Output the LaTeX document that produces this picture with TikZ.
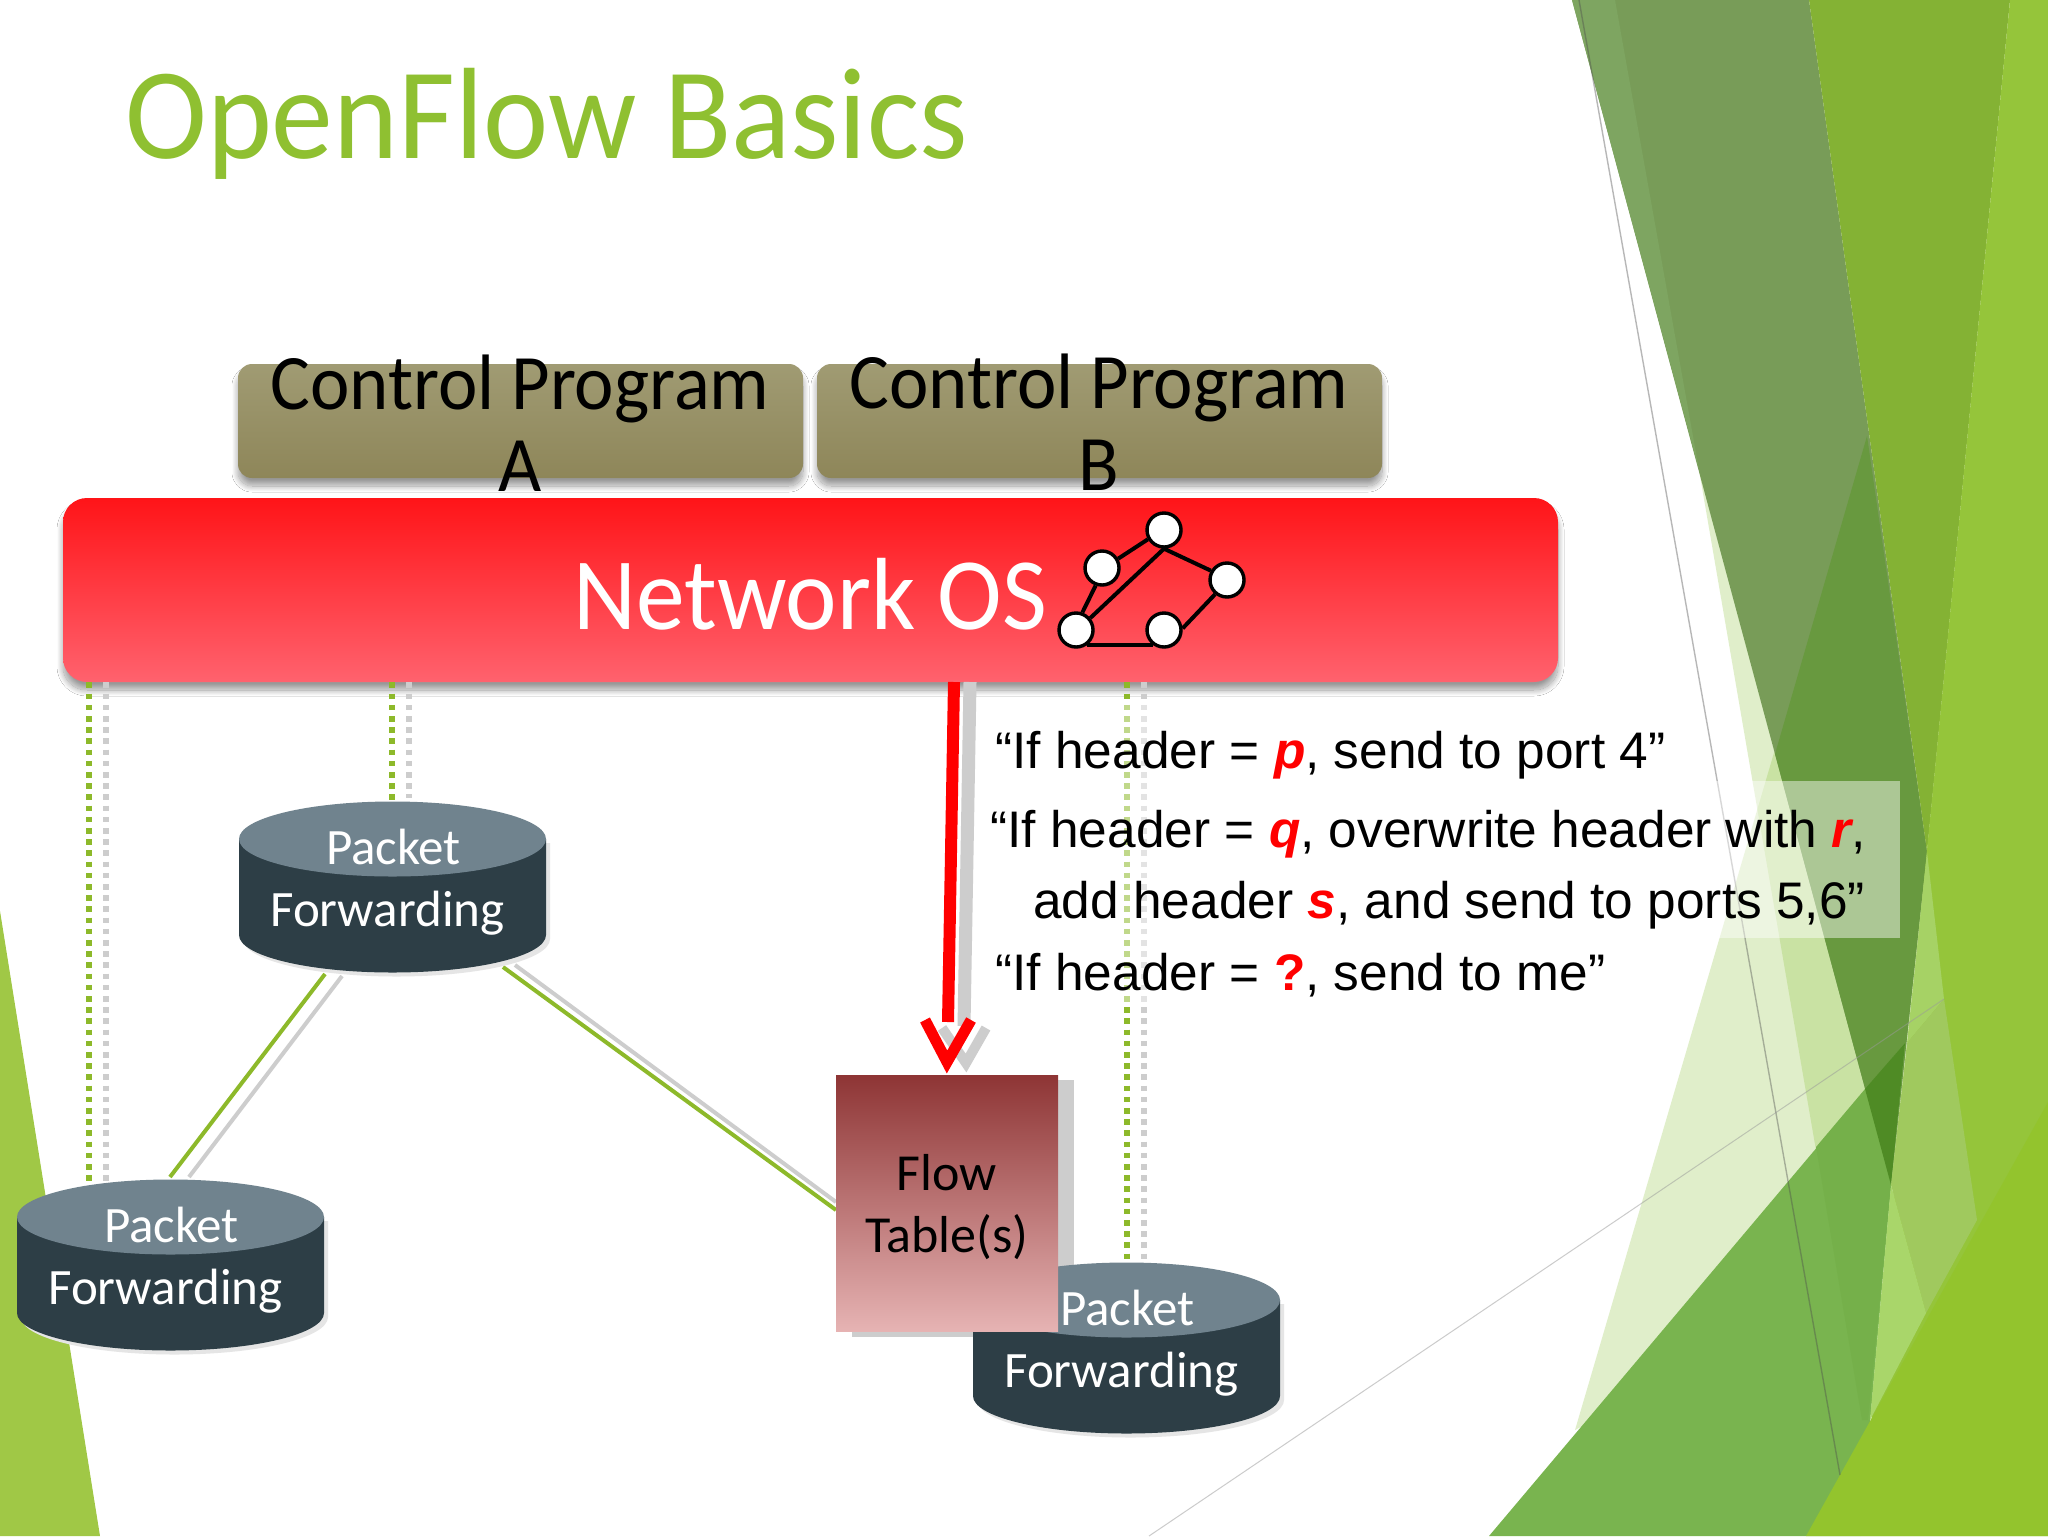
\documentclass[tikz,border=0pt]{standalone}
\usepackage{fontspec}
\setmainfont{Carlito}
\newfontfamily\displayfont{Carlito}[FakeStretch=.95]
\newfontfamily\rulefont{Liberation Sans}
\usetikzlibrary{shadows, shadows.blur, calc}
\definecolor{titlegreen}{HTML}{8FC031}
\definecolor{linkgreen}{HTML}{8DB92A}
\definecolor{palegreen}{RGB}{141,195,60}
\definecolor{shadowgray}{HTML}{CDCDCD}
\definecolor{cyltop}{HTML}{70838E}
\definecolor{cylside}{HTML}{2D3E46}
\definecolor{rulered}{HTML}{FF0000}
\definecolor{progtop}{HTML}{A09B73}
\definecolor{progbottom}{HTML}{8E8659}
\definecolor{ostop}{HTML}{FF1418}
\definecolor{osbottom}{HTML}{FF626E}
\definecolor{flowtop}{RGB}{142,53,53}
\definecolor{flowbottom}{RGB}{230,179,179}

\begin{document}
\begin{tikzpicture}[
    x=.5pt, y=-.5pt,
    soft_shadow/.style={
      blur shadow={shadow blur steps=20, shadow blur radius=3pt, shadow xshift=0pt, shadow yshift=-4pt, shadow opacity=40}
    },
    program/.style={
      rounded corners=7pt, minimum width=282.5pt, minimum height=57pt, inner sep=0pt,
      top color=progtop, bottom color=progbottom, soft_shadow
    },
    program_text/.style={
      align=center, text=black, font=\displayfont\fontsize{39.3}{41}\selectfont, inner sep=0pt
    },
    forwarding/.style={
      minimum width=170pt, minimum height=100pt, inner sep=0pt, text=white, align=center,
      font=\fontsize{25.5}{31}\selectfont,
      path picture={
        \coordinate (cyl_c) at ($(path picture bounding box.center)+(5,5)$);
        \fill [black!10] ($(cyl_c)+(-149.5,-44)$) -- ($(cyl_c)+(-149.5,52)$)
          arc [start angle=180, end angle=360, x radius=76.75pt, y radius=18.75pt] -- ($(cyl_c)+(157.5,-44)$) -- cycle;
        \fill [cylside] ($(cyl_c)+(-153.5,-48)$) -- ($(cyl_c)+(-153.5,48)$)
          arc [start angle=180, end angle=360, x radius=76.75pt, y radius=18.75pt] -- ($(cyl_c)+(153.5,-48)$) -- cycle;
        \fill [cyltop] ($(cyl_c)+(0,-48)$) ellipse [x radius=76.75pt, y radius=18.75pt];
      }
    },
    flow/.style={
      minimum width=111pt, minimum height=128pt, inner sep=0pt, top color=flowtop, bottom color=flowbottom,
      text=black, align=center, font=\fontsize{26}{31}\selectfont
    },
    graph_node/.style={
      circle, draw=black, fill=white, line width=1.7pt, minimum size=17pt, inner sep=0pt,
      drop shadow={shadow xshift=.7pt, shadow yshift=-.7pt, opacity=.3, fill=black}
    },
    graph_edge/.style={black, line width=2pt},
    rule_text/.style={
      anchor=base west, inner sep=0pt, font=\rulefont\fontsize{25.7}{27}\selectfont
    },
    rule_back/.style={
      fill=white, fill opacity=.45, inner sep=0pt
    },
    link_green/.style={linkgreen, line width=2pt},
    link_gray/.style={shadowgray, line width=2pt},
    control_green/.style={linkgreen, line width=2.8pt, dash pattern=on 2.8pt off 2.8pt},
    control_gray/.style={shadowgray, line width=2.8pt, dash pattern=on 2.8pt off 2.8pt},
  ]
    \useasboundingbox (0,0) rectangle (2048,1536);

    % Background facets
    \fill [white] (0,0) rectangle (2048,1536);
    \fill [palegreen, opacity=.27] (1575,1430) -- (1867,436) -- (1977,1220) -- cycle;
    \fill [palegreen, opacity=.27] (1699,470) -- (1891,1185) -- (1840,1290) -- cycle;
    \fill [fill={rgb,255:red,120;green,156;blue,88}] (1572,0) -- (1809,0) -- (1927,852) -- (1891,1185) -- cycle;
    \fill [fill={rgb,255:red,126;green,165;blue,97}] (1572,0) -- (1615,0) -- (1699,470) -- cycle;
    \fill [fill={rgb,255:red,104;green,153;blue,63}] (1867,436) -- (1927,852) -- (1891,1185) -- (1775,754) -- cycle;
    \fill [fill={rgb,255:red,121;green,180;blue,79}] (1489,1536) -- (1905,1043) -- (1891,1185) -- (1860,1536) -- cycle;
    \fill [fill={rgb,255:red,117;green,176;blue,74}] (1816,1147) -- (1865,1089) -- (1891,1185) -- (1868,1420) -- (1862,1420) -- cycle;
    \fill [fill={rgb,255:red,79;green,139;blue,37}] (1865,1089) -- (1905,1043) -- (1891,1185) -- cycle;
    \fill [fill={rgb,255:red,132;green,178;blue,52}] (1809,0) -- (2010,0) -- (1927,852) -- cycle;
    \fill [fill={rgb,255:red,149;green,197;blue,58}] (2010,0) -- (2048,0) -- (2048,1536) -- (1860,1536) -- cycle;
    \fill [fill={rgb,255:red,166;green,210;blue,101}] (1927,852) -- (1944,999) -- (1907,1043) -- cycle;
    \fill [fill={rgb,255:red,160;green,201;blue,94}] (1907,1043) -- (1944,999) -- (1977,1220) -- (1926,1313) -- (1891,1185) -- cycle;
    \fill [fill={rgb,255:red,169;green,214;blue,106}] (1891,1185) -- (1926,1313) -- (1870,1420) -- cycle;
    \fill [fill={rgb,255:red,147;green,196;blue,45}] (1806,1536) -- (2048,1102) -- (2048,1536) -- cycle;
    \fill [fill={rgb,255:red,160;green,200;blue,70}] (0,911) -- (100,1536) -- (0,1536) -- cycle;
    \draw [black!70, opacity=.4, line width=.7pt] (1579,0) -- (1840,1475);
    \draw [black!40, opacity=.5, line width=.5pt] (1149,1536) -- (1944,999);

    % Title
    \node [anchor=base west, inner sep=0pt, text=titlegreen, font=\displayfont\fontsize{65}{70}\selectfont] (title) at (125,158) {OpenFlow Basics};

    % Controller
    \node [program] (program_a) at (520.5,421) {};
    \node [program] (program_b) at (1099.5,421) {};
    \node [rounded corners=12pt, minimum width=747.5pt, minimum height=92pt, inner sep=0pt, top color=ostop, bottom color=osbottom, soft_shadow] (network_os) at (810.5,590) {};
    \node [program_text] (program_a_text) at (520,423) {Control Program\\A};
    \node [program_text] (program_b_text) at (1099,422) {Control Program\\B};
    \node [anchor=base, inner sep=0pt, text=white, font=\displayfont\fontsize{51.3}{54}\selectfont] (network_os_text) at (810,629) {Network OS};

    % Control lines
    \coordinate (control_left) at (89,1186);
    \coordinate (control_top) at (392,802);
    \coordinate (control_right) at (1127,1263);
    \foreach \ctrl in {control_left, control_top, control_right} {
      \draw [control_gray] ($(network_os.south -| \ctrl)+(17,0)$) -- ($(\ctrl)+(17,-4)$);
      \draw [control_green] (network_os.south -| \ctrl) -- (\ctrl);
    }

    % Links between switches
    \coordinate (link_a_green_start) at (325,974);
    \coordinate (link_a_green_end) at (170,1177);
    \coordinate (link_a_gray_start) at (342,976);
    \coordinate (link_a_gray_end) at (189,1177);
    \coordinate (link_b_green_start) at (503,967);
    \coordinate (link_b_gray_start) at (515,965);
    \coordinate (link_b_green_end) at (836,1210);
    \coordinate (link_b_gray_end) at (836,1202);
    \draw [link_gray] (link_a_gray_start) -- (link_a_gray_end);
    \draw [link_green] (link_a_green_start) -- (link_a_green_end);
    \draw [link_gray] (link_b_gray_start) -- (link_b_gray_end);
    \draw [link_green] (link_b_green_start) -- (link_b_green_end);

    % Switches
    \node [forwarding] (packet_top) at (387.5,882) {\hspace*{6pt}Packet\\Forwarding};
    \node [forwarding] (packet_left) at (165.5,1260) {\hspace*{6pt}Packet\\Forwarding};

    % Flow table on the third switch
    \fill [shadowgray] (852,1080) rectangle (1074,1337);
    \node [forwarding] (packet_right) at (1121.5,1343) {\hspace*{6pt}Packet\\Forwarding};
    \node [flow] (flow_table) at (947,1203) {\rule{0pt}{22pt}Flow\\Table(s)};

    % Graph on the controller
    \node [graph_node] (graph_top) at (1164,530) {};
    \node [graph_node] (graph_left) at (1102,568) {};
    \node [graph_node] (graph_right) at (1227,580) {};
    \node [graph_node] (graph_low_left) at (1076,630) {};
    \node [graph_node] (graph_low_mid) at (1164,630) {};
    \draw [graph_edge] (graph_left.30) -- (graph_top.-150);
    \draw [graph_edge] (graph_top.-90) -- (graph_right.150);
    \draw [graph_edge] (graph_right.-130) -- (graph_low_mid.5);
    \draw [graph_edge] (graph_low_left.-55) -- (graph_low_mid.-125);
    \draw [graph_edge] (graph_low_left.70) -- (graph_left.-110);
    \draw [graph_edge] (graph_low_left.40) -- (graph_top.-90);

    % Text backs
    \node [rule_back, minimum width=362.5pt, minimum height=40pt] (back_first) at (1337.5,741) {};
    \node [rule_back, minimum width=462.5pt, minimum height=78.5pt] (back_second) at (1437.5,859.5) {};
    \node [rule_back, minimum width=350pt, minimum height=33pt] (back_third) at (1325,971) {};

    % Flow entry arrow
    \coordinate (arrow_top) at (954,682);
    \coordinate (arrow_end) at (948,1022);
    \coordinate (arrow_left) at (925,1020);
    \coordinate (arrow_tip) at (947,1062);
    \coordinate (arrow_right) at (971,1020);
    \draw [shadowgray, line width=6.5pt] ($(arrow_top)+(16,0)$) -- ($(arrow_end)+(16,4)$);
    \draw [shadowgray, line width=5pt, line join=miter] ($(arrow_left)+(17,8)$) -- ($(arrow_tip)+(19,1)$) -- ($(arrow_right)+(15,8)$);
    \draw [rulered, line width=6pt] (arrow_top) -- (arrow_end);
    \draw [rulered, line width=5.5pt, line join=miter] (arrow_left) -- (arrow_tip) -- (arrow_right);

    % Flow entries
    \node [rule_text] (rule_first) at (995,768) {“If header = \textcolor{rulered}{\bfseries\itshape p}, send to port 4”};
    \node [rule_text] (rule_second_a) at (990,847) {“If header = \textcolor{rulered}{\bfseries\itshape q}, overwrite header with \textcolor{rulered}{\bfseries\itshape r},};
    \node [rule_text] (rule_second_b) at (1033,918) {add header \textcolor{rulered}{\bfseries\itshape s}, and send to ports 5,6”};
    \node [rule_text] (rule_third) at (995,990) {“If header = \textcolor{rulered}{\bfseries ?}, send to me”};
  \end{tikzpicture}
\end{document}
